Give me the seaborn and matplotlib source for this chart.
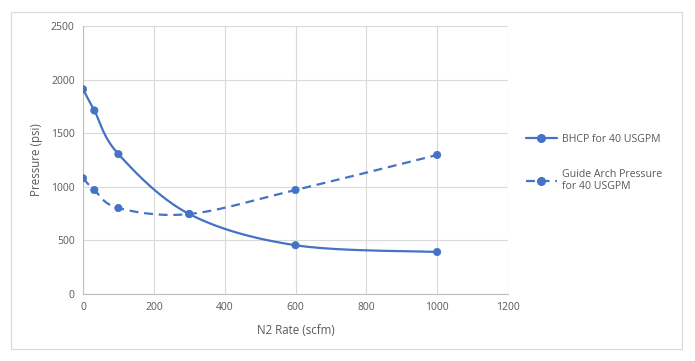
import numpy as np
import pandas as pd
import seaborn as sns
import matplotlib.pyplot as plt
from matplotlib.lines import Line2D
from matplotlib.patches import Rectangle

# Data.
n2_rate = [0, 32, 100, 300, 600, 1000]
bhcp = [1910, 1712, 1305, 746, 455, 392]
guide_arch = [1080, 970, 802, 746, 970, 1297]

bhcp_label = 'BHCP for 40 USGPM'
guide_label = 'Guide Arch Pressure\nfor 40 USGPM'

blue = '#4472C4'
grey_text = '#595959'

sns.set_theme(style='whitegrid')
plt.rcParams['font.family'] = ['Open Sans', 'DejaVu Sans']


def excel_smooth(x, y, xr, yr, n=40):
    # Bezier smoothing like Excel's "smoothed line", done in axis-normalised space.
    px = np.asarray(x, float) / xr
    py = np.asarray(y, float) / yr
    pts = np.column_stack([px, py])
    out = []
    for i in range(len(pts) - 1):
        p0 = pts[i - 1] if i > 0 else pts[i]
        p1, p2 = pts[i], pts[i + 1]
        p3 = pts[i + 2] if i + 2 < len(pts) else pts[i + 1]
        c1 = p1 + (p2 - p0) / 6
        c2 = p2 - (p3 - p1) / 6
        t = np.linspace(0, 1, n)[:, None]
        seg = ((1 - t) ** 3) * p1 + 3 * ((1 - t) ** 2) * t * c1 + 3 * (1 - t) * t ** 2 * c2 + t ** 3 * p2
        out.append(seg if i == 0 else seg[1:])
    out = np.vstack(out)
    return out[:, 0] * xr, out[:, 1] * yr


df = pd.DataFrame({
    'N2 Rate (scfm)': n2_rate * 2,
    'Pressure (psi)': bhcp + guide_arch,
    'series': [bhcp_label] * len(n2_rate) + [guide_label] * len(n2_rate),
})

fig = plt.figure(figsize=(6.95, 3.61), dpi=100)
ax = fig.add_axes([83 / 695, 1 - 294 / 361, 425 / 695, 268 / 361])

# Outer chart border.
fig.add_artist(Rectangle((11 / 695, 1 - 349 / 361), 671 / 695, 337 / 361,
                         transform=fig.transFigure, fill=False, edgecolor='#D9D9D9', lw=0.8))

xs, ys = excel_smooth(n2_rate, bhcp, 1200, 2500)
ax.plot(xs, ys, color=blue, lw=1.6, zorder=3)
xs, ys = excel_smooth(n2_rate, guide_arch, 1200, 2500)
ax.plot(xs, ys, color=blue, lw=1.6, dashes=(4, 2.6), zorder=3)

sns.scatterplot(data=df, x='N2 Rate (scfm)', y='Pressure (psi)', hue='series',
                palette=[blue, blue], s=28, edgecolor=blue, linewidth=0.5,
                legend=False, ax=ax, zorder=4)

ax.set_xlim(0, 1200)
ax.set_ylim(0, 2500)
ax.set_xticks(range(0, 1201, 200))
ax.set_yticks(range(0, 2501, 500))
ax.grid(True, color='#D9D9D9', lw=0.8)
for side in ['top', 'right']:
    ax.spines[side].set_visible(False)
for side in ['left', 'bottom']:
    ax.spines[side].set_color('#BFBFBF')
    ax.spines[side].set_linewidth(0.8)
ax.tick_params(length=0, labelsize=7.5, colors=grey_text, pad=6)
ax.set_xlabel('N2 Rate (scfm)', fontsize=8.3, color=grey_text, labelpad=8)
ax.set_ylabel('Pressure (psi)', fontsize=8.3, color=grey_text, labelpad=6)

handles = [
    Line2D([], [], color=blue, lw=1.6, marker='o', markersize=5.5),
    Line2D([], [], color=blue, lw=1.6, dashes=(4, 2.6), marker='o', markersize=5.5),
]
fig.legend(handles, [bhcp_label, guide_label], loc='upper left',
           bbox_to_anchor=(516 / 695, 1 - 124 / 361), frameon=False,
           fontsize=7.6, labelcolor=grey_text, handlelength=3.0,
           handletextpad=0.5, labelspacing=2.3)

plt.savefig('out.png', dpi=100)
